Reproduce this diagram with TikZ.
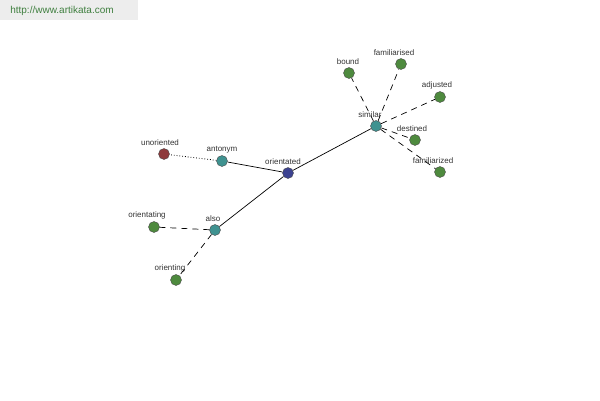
\documentclass[tikz,border=0pt]{standalone}
\usepackage{fontspec}
\setmainfont{Liberation Sans}
\usetikzlibrary{positioning}
\definecolor{leafgreen}{HTML}{4E8A3E}
\definecolor{hubteal}{HTML}{3F9290}
\definecolor{rootblue}{HTML}{3C4290}
\definecolor{antired}{HTML}{8E3A3C}
\definecolor{labelgray}{HTML}{333333}
\definecolor{sitegreen}{HTML}{3F7F3F}
\begin{document}
\begin{tikzpicture}[x=1pt, y=-1pt,
  wn/.style={circle, draw=black!70, inner sep=0pt, minimum size=11pt},
  leaf/.style={wn, fill=leafgreen},
  hub/.style={wn, fill=hubteal},
  lbl/.style={font=\fontsize{8}{9}\selectfont, text=labelgray, inner sep=1pt},
  solidl/.style={black, line width=0.7pt},
  dashl/.style={black, line width=0.7pt, dash pattern=on 6pt off 5pt},
  dotl/.style={black, line width=0.8pt, dotted}
]
  \useasboundingbox (0,0) rectangle (600,400);
  \fill[black!7] (0,0) rectangle (138,20);
  \node[font=\fontsize{10}{12}\selectfont, text=sitegreen] (site) at (62,11) {http://www.artikata.com};

  % nodes
  \node[wn, fill=rootblue] (orientated) at (288,173) {};
  \node[hub] (similar) at (376,126) {};
  \node[hub] (antonym) at (222,161) {};
  \node[hub] (also) at (215,230) {};
  \node[wn, fill=antired] (unoriented) at (164,154) {};
  \node[leaf] (orientating) at (154,227) {};
  \node[leaf] (orienting) at (176,280) {};
  \node[leaf] (bound) at (349,73) {};
  \node[leaf] (familiarised) at (401,64) {};
  \node[leaf] (adjusted) at (440,97) {};
  \node[leaf] (destined) at (415,140) {};
  \node[leaf] (familiarized) at (440,172) {};

  % labels
  \foreach \n/\dx in {orientated/-5, similar/-6, antonym/0, also/-2, unoriented/-4,
      orientating/-7, orienting/-6, bound/-1, familiarised/-7, adjusted/-3,
      destined/-3, familiarized/-7}
    \node[lbl] at ([xshift=\dx pt, yshift=11.5pt]\n.center) {\n};

  % edges
  \foreach \a/\b in {orientated/similar, orientated/antonym, orientated/also}
    \draw[solidl] (\a) -- (\b);
  \draw[dotl] (antonym) -- (unoriented);
  \foreach \b in {bound, familiarised, adjusted, destined, familiarized}
    \draw[dashl] (similar) -- (\b);
  \foreach \b in {orientating, orienting}
    \draw[dashl] (also) -- (\b);
\end{tikzpicture}
\end{document}
